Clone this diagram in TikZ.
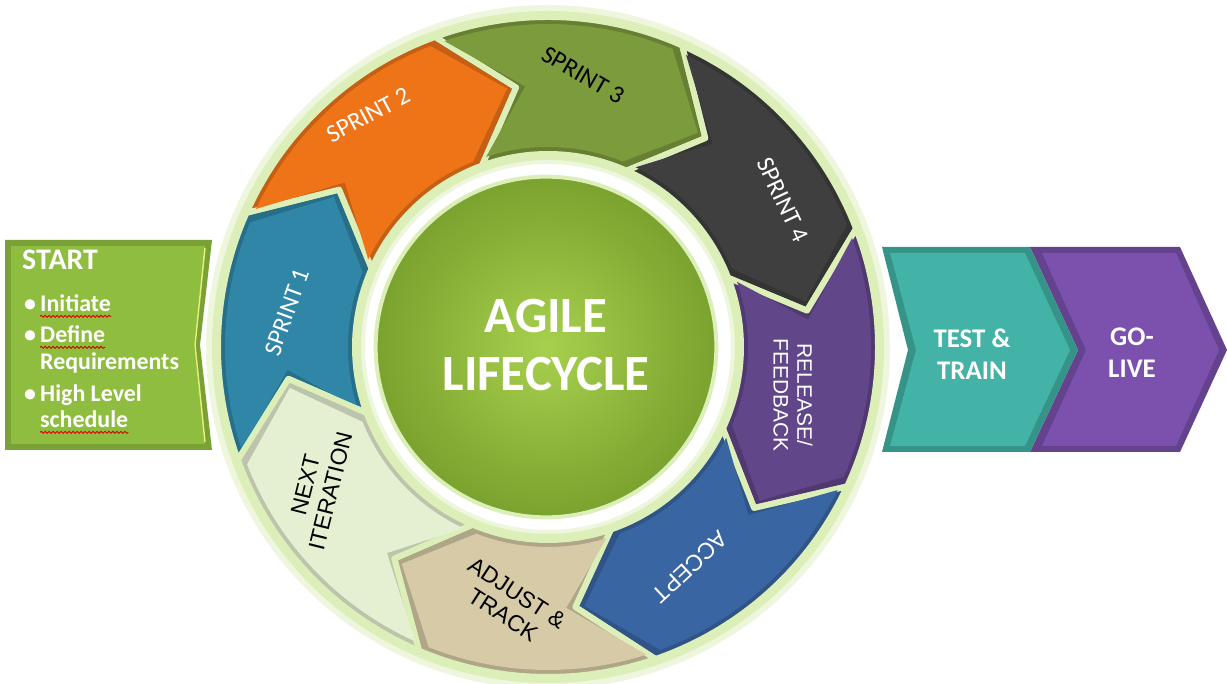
\documentclass[tikz,border=0pt]{standalone}
\usepackage{fontspec}
\setmainfont{Carlito}
\newfontfamily\arialish{Liberation Sans}
\usetikzlibrary{decorations.pathmorphing}
\definecolor{ringline}{HTML}{DCEFB8}
\definecolor{glow}{HTML}{EEF7DE}
\definecolor{sA}{HTML}{2F86A6}
\definecolor{sB}{HTML}{EF7418}
\definecolor{sC}{HTML}{7C9B3D}
\definecolor{sD}{HTML}{3F3F3F}
\definecolor{rel}{HTML}{62468A}
\definecolor{acc}{HTML}{3966A2}
\definecolor{adj}{HTML}{D6CBA6}
\definecolor{nxt}{HTML}{E5EFD2}
\definecolor{startg}{HTML}{8FBD3F}
\definecolor{tealc}{HTML}{42B3A6}
\definecolor{golive}{HTML}{7B51AD}
\definecolor{coreIn}{HTML}{A8D04E}
\definecolor{coreOut}{HTML}{7AA22E}
\def\ro{330}\def\ri{193}\def\rm{261.5}\def\dd{13}
\def\rob{323}\def\rib{200}
\newcommand\ringseg[3]{%
  \filldraw[fill=#3!82!black, draw=ringline, line width=6, line join=round]
    (#1:\ro) arc[start angle=#1, end angle=#2, radius=\ro]
    -- (#2-\dd:\rm) -- (#2:\ri) arc[start angle=#2, end angle=#1, radius=\ri]
    -- (#1-\dd:\rm) -- cycle;
  \fill[#3]
    (#1-1.3:\rob) arc[start angle=#1-1.3, end angle=#2+1.3, radius=\rob]
    -- (#2-\dd+2:\rm) -- (#2+2:\rib) arc[start angle=#2+2, end angle=#1-2, radius=\rib]
    -- (#1-\dd-2:\rm) -- cycle;
}
\tikzset{
  seglabel/.style={font=\fontsize{25}{27}\selectfont, align=center, inner sep=0},
  arlabel/.style={font=\arialish\fontsize{23}{26}\selectfont, align=center, inner sep=0},
  boxlabel/.style={font=\bfseries\fontsize{27}{32}\selectfont, align=center, white, inner sep=0},
  bullet/.style={font=\bfseries\fontsize{24}{27}\selectfont, white, anchor=base west, inner sep=0},
  squig/.style={draw=red!85!black, line width=0.9, decorate, decoration={snake, segment length=4, amplitude=1}}
}
\begin{document}
\begin{tikzpicture}[x=1bp,y=1bp]
\useasboundingbox (0,0) rectangle (1227,684);
\fill[white] (0,0) rectangle (1227,684);

% ring background glow
\begin{scope}[shift={(548,337)}]
  \fill[glow, even odd rule] (0,0) circle[radius=342] (0,0) circle[radius=183];
  \fill[ringline, even odd rule] (0,0) circle[radius=336] (0,0) circle[radius=187];
  \ringseg{200}{156}{sA}
  \ringseg{156}{110}{sB}
  \ringseg{110}{66}{sC}
  \ringseg{66}{21}{sD}
  \ringseg{21}{-25}{rel}
  \ringseg{-25}{-71}{acc}
  \ringseg{-71}{-113}{adj}
  \ringseg{-113}{-160}{nxt}
\end{scope}

% center circle
\node[circle, minimum size=342, inner sep=0, draw=ringline, line width=4,
      shading=radial, inner color=coreIn, outer color=coreOut] (core) at (546,337) {};
\node[font=\bfseries\fontsize{51}{58}\selectfont, white, align=center] (agile) at (546,339) {AGILE\\LIFECYCLE};

% segment labels
\node[seglabel, white, rotate=70] (l1) at (287,372) {SPRINT 1};
\node[seglabel, white, rotate=28] (l2) at (368,569) {SPRINT 2};
\node[seglabel, black, rotate=-30] (l3) at (583,609) {SPRINT 3};
\node[seglabel, white, rotate=-65] (l4) at (783,484) {SPRINT 4};
\node[arlabel, font=\arialish\fontsize{21}{24}\selectfont, white, rotate=-90] (l5) at (793,289) {RELEASE/\\FEEDBACK};
\node[arlabel, white, rotate=223] (l6) at (690,117) {ACCEPT};
\node[arlabel, black, rotate=-33] (l7) at (510,80) {ADJUST \&\\TRACK};
\node[arlabel, black, rotate=76] (l8) at (318,196) {NEXT\\ITERATION};

% START box
\fill[startg!85!black] (5,444) -- (212,444) -- (200,339) -- (212,234) -- (5,234) -- cycle;
\fill[startg] (11,438) -- (205,438) -- (194,339) -- (205,240) -- (11,240) -- cycle;
\draw[startg!40!yellow!60!white, line width=1.5] (205,436) -- (195,339) -- (205,242);
\node[font=\bfseries\fontsize{30}{34}\selectfont, white, anchor=base west, inner sep=0] (start) at (22,414) {START};
\node[bullet] (b1) at (24,372) {\textbullet};
\node[bullet] (ini) at (40,372) {Initiate};
\node[bullet] (b2) at (24,341) {\textbullet};
\node[bullet] (def) at (40,341) {Define};
\node[bullet] (req) at (40,314) {Requirements};
\node[bullet] (b3) at (24,282) {\textbullet};
\node[bullet] (hl) at (40,282) {High Level};
\node[bullet] (sch) at (40,256) {schedule};
\draw[squig] ([yshift=-4]ini.south west) -- ([yshift=-4]ini.south east);
\draw[squig] ([yshift=-4]def.south west) -- ([yshift=-4]def.south east);
\draw[squig] ([yshift=-4]sch.south west) -- ([yshift=-4]sch.south east);

% TEST & TRAIN and GO-LIVE chevrons
\fill[golive!82!black] (1030,437) -- (1180,437) -- (1227,334) -- (1180,232) -- (1030,232) -- (1078,334) -- cycle;
\fill[golive] (1042,431) -- (1176,431) -- (1219,334) -- (1176,238) -- (1042,238) -- (1086,334) -- cycle;
\fill[tealc!82!black] (882,437) -- (1030,437) -- (1078,334) -- (1030,232) -- (882,232) -- (908,334) -- cycle;
\fill[tealc] (890,431) -- (1025,431) -- (1070,334) -- (1025,238) -- (890,238) -- (916,334) -- cycle;
\node[boxlabel] (tt) at (972,330) {TEST \&\\TRAIN};
\node[boxlabel] (gl) at (1132,331) {GO-\\LIVE};
\end{tikzpicture}
\end{document}
